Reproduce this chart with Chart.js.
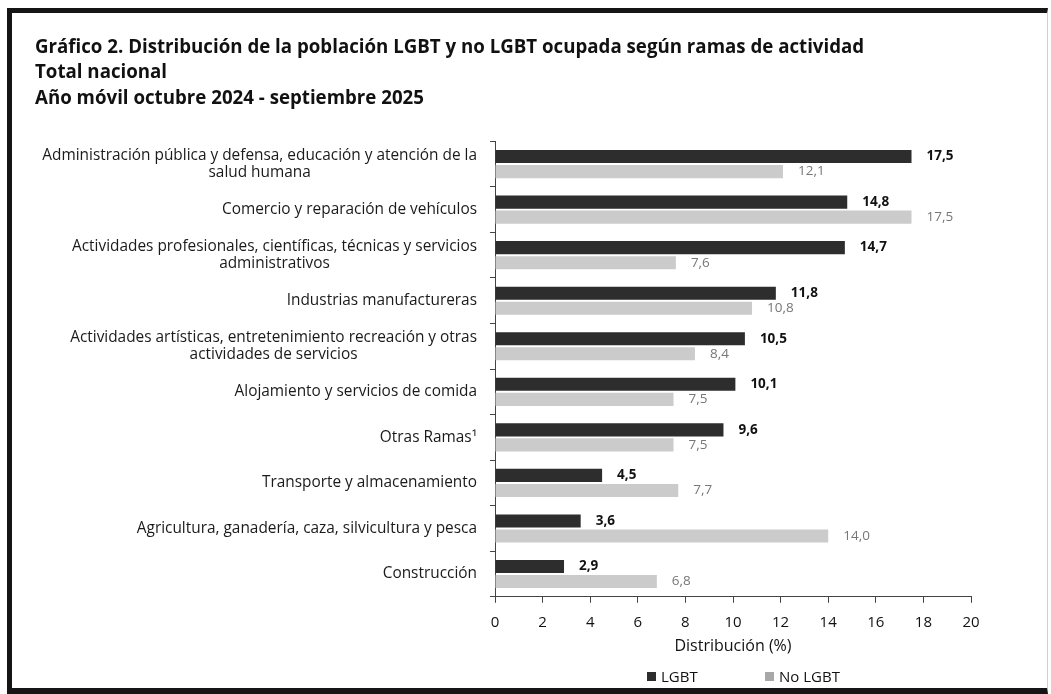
<!DOCTYPE html>
<html lang="es">
<head>
<meta charset="utf-8">
<title>Gráfico 2 - LGBT por ramas de actividad</title>
<script src="https://cdn.jsdelivr.net/npm/chart.js@4.4.1/dist/chart.umd.min.js"></script>
<style>
  html, body { margin: 0; padding: 0; background: #fff; }
  body { width: 1051px; height: 694px; position: relative; overflow: hidden; font-family: "Open Sans", sans-serif; }
  #frame {
    position: absolute; left: 7px; top: 8px; width: 1041px; height: 686px;
    box-sizing: border-box;
    border-top: 5px solid #151515; border-left: 5px solid #151515;
    border-bottom: 6px solid #151515; border-right: 1px solid #d0d0d0;
  }
  #chart-wrap { position: absolute; left: 13px; top: 13px; width: 1030px; height: 675px; }
  #legend { position: absolute; top: 665px; left: 0; width: 1051px; height: 22px; font-size: 15px; color: #111; }
  #legend .item { position: absolute; top: 0; display: flex; align-items: center; height: 22px; }
  #legend .box { display: inline-block; width: 9px; height: 9px; margin-right: 5px; }
</style>
</head>
<body>
<div id="frame"></div>
<div id="chart-wrap"><canvas id="barChartRamas"></canvas></div>
<div id="legend"></div>

<script>
  const titleLines = [
    "Gráfico 2. Distribución de la población LGBT y no LGBT ocupada según ramas de actividad",
    "Total nacional",
    "Año móvil octubre 2024 - septiembre 2025"
  ];

  const categories = [
    ["Administración pública y defensa, educación y atención de la", "salud humana"],
    ["Comercio y reparación de vehículos"],
    ["Actividades profesionales, científicas, técnicas y servicios", "administrativos"],
    ["Industrias manufactureras"],
    ["Actividades artísticas, entretenimiento recreación y otras", "actividades de servicios"],
    ["Alojamiento y servicios de comida"],
    ["Otras Ramas¹"],
    ["Transporte y almacenamiento"],
    ["Agricultura, ganadería, caza, silvicultura y pesca"],
    ["Construcción"]
  ];

  const seriesNames = ["LGBT", "No LGBT"];
  const lgbtValues = [17.5, 14.8, 14.7, 11.8, 10.5, 10.1, 9.6, 4.5, 3.6, 2.9];
  const noLgbtValues = [12.1, 17.5, 7.6, 10.8, 8.4, 7.5, 7.5, 7.7, 14.0, 6.8];

  const xMin = 0;
  const xMax = 20;
  const xStep = 2;
  const xAxisTitle = "Distribución (%)";

  const FONT = "'Open Sans', sans-serif";
  const colors = ["#2d2d2d", "#cbcbcb"];

  function formatValue(v) {
    return v.toFixed(1).replace(".", ",");
  }

  // category labels: block right aligned, lines centred inside the block
  const categoryLabelsPlugin = {
    id: "categoryLabels",
    afterDraw(chart) {
      const scale = chart.scales.y;
      const ctx = chart.ctx;
      const rightEdge = scale.right - 18;
      const lineHeight = 17;
      ctx.save();
      ctx.font = "15.4px " + FONT;
      ctx.fillStyle = "#1a1a1a";
      ctx.textAlign = "center";
      ctx.textBaseline = "middle";
      categories.forEach((lines, i) => {
        const y = scale.getPixelForValue(i);
        const maxW = Math.max(...lines.map((l) => ctx.measureText(l).width));
        const cx = rightEdge - maxW / 2;
        const top = y - ((lines.length - 1) * lineHeight) / 2;
        lines.forEach((line, j) => {
          ctx.fillText(line, cx, top + j * lineHeight);
        });
      });
      ctx.restore();
    }
  };

  const valueLabelsPlugin = {
    id: "valueLabels",
    afterDatasetsDraw(chart) {
      const ctx = chart.ctx;
      ctx.save();
      ctx.textAlign = "left";
      ctx.textBaseline = "middle";
      chart.data.datasets.forEach((ds, di) => {
        const meta = chart.getDatasetMeta(di);
        ctx.font = (di === 0 ? "bold " : "") + "13.5px " + FONT;
        ctx.fillStyle = di === 0 ? "#111" : "#777";
        meta.data.forEach((bar, i) => {
          ctx.fillText(formatValue(ds.data[i]), bar.x + 15, bar.y);
        });
      });
      ctx.restore();
    }
  };

  const ctx = document.getElementById("barChartRamas").getContext("2d");
  const chartInstance = new Chart(ctx, {
    type: "bar",
    data: {
      labels: categories,
      datasets: [
        { label: seriesNames[0], data: lgbtValues, backgroundColor: colors[0] },
        { label: seriesNames[1], data: noLgbtValues, backgroundColor: colors[1] }
      ]
    },
    options: {
      indexAxis: "y",
      responsive: true,
      maintainAspectRatio: false,
      animation: false,
      categoryPercentage: 0.66,
      barPercentage: 0.87,
      layout: { padding: { left: 22, right: 72, top: 0, bottom: 28 } },
      plugins: {
        legend: { display: false },
        tooltip: { enabled: false },
        title: {
          display: true,
          align: "start",
          text: titleLines,
          color: "#111",
          font: { family: FONT, size: 18.7, weight: "bold", lineHeight: 1.36 },
          padding: { top: 22, bottom: 30 }
        }
      },
      scales: {
        x: {
          min: xMin,
          max: xMax,
          ticks: {
            stepSize: xStep,
            color: "#111",
            padding: 11,
            font: { family: FONT, size: 15 }
          },
          grid: { drawOnChartArea: false, drawTicks: true, tickLength: 6, color: "#444" },
          border: { display: true, color: "#444" },
          title: {
            display: true,
            text: xAxisTitle,
            color: "#111",
            font: { family: FONT, size: 16 },
            padding: { top: -6, bottom: 4 }
          }
        },
        y: {
          ticks: { display: false },
          grid: { drawOnChartArea: false, drawTicks: true, tickLength: 5, color: "#444" },
          border: { display: true, color: "#444" },
          afterFit(scale) {
            scale.width = 460;
          }
        }
      }
    },
    plugins: [categoryLabelsPlugin, valueLabelsPlugin]
  });

  function renderLegend() {
    const legend = document.getElementById("legend");
    const positions = [647, 765];
    chartInstance.data.datasets.forEach((ds, i) => {
      const item = document.createElement("span");
      item.className = "item";
      item.style.left = positions[i] + "px";
      item.innerHTML = `<span class="box" style="background:${i === 0 ? ds.backgroundColor : "#a8a8a8"}"></span>${ds.label}`;
      legend.appendChild(item);
    });
  }
  renderLegend();
</script>
</body>
</html>
